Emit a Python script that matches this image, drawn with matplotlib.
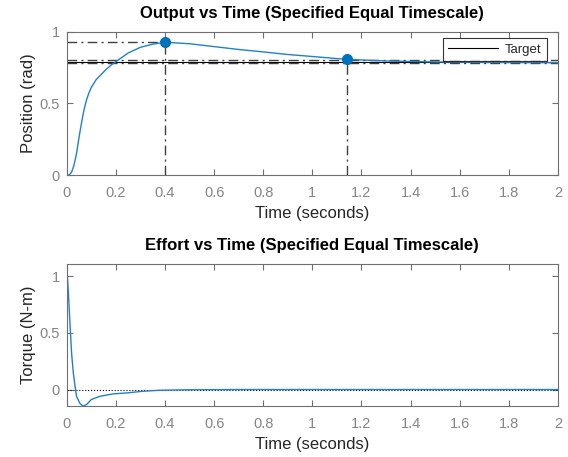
import matplotlib
matplotlib.use("Agg")
import matplotlib.pyplot as plt

# ---- data ----
t_pos = [0, 0.01, 0.02, 0.03, 0.04, 0.05, 0.06, 0.07, 0.08, 0.09, 0.10, 0.12, 0.14,
         0.16, 0.18, 0.20, 0.25, 0.30, 0.35, 0.40, 0.50, 0.60, 0.70, 0.80, 0.90,
         1.00, 1.14, 1.30, 1.50, 1.70, 2.00]
position = [0, 0.0, 0.02, 0.07, 0.15, 0.26, 0.36, 0.45, 0.52, 0.57, 0.61, 0.665, 0.70,
            0.735, 0.765, 0.79, 0.85, 0.89, 0.912, 0.925, 0.915, 0.895, 0.875, 0.858,
            0.84, 0.826, 0.806, 0.795, 0.788, 0.785, 0.783]

t_torque = [0, 0.007, 0.014, 0.02, 0.027, 0.034, 0.04, 0.054, 0.068, 0.082, 0.10,
            0.136, 0.19, 0.245, 0.31, 0.38, 0.5, 0.7, 1.0, 1.5, 2.0]
torque = [1.105, 0.85, 0.555, 0.32, 0.146, 0.03, -0.06, -0.123, -0.146, -0.13, -0.088,
          -0.059, -0.038, -0.03, -0.015, -0.006, -0.002, 0.0, 0.0, 0.0, 0.0]

target = 0.79
band_upper = 0.805
band_lower = 0.778
peak_time, peak_value = 0.40, 0.925
settle_time, settle_value = 1.14, 0.806

xticks = [0, 0.2, 0.4, 0.6, 0.8, 1, 1.2, 1.4, 1.6, 1.8, 2]
xticklabels = ["0", "0.2", "0.4", "0.6", "0.8", "1", "1.2", "1.4", "1.6", "1.8", "2"]
pos_yticks = [0, 0.5, 1]
pos_yticklabels = ["0", "0.5", "1"]
tq_yticks = [0, 0.5, 1]
tq_yticklabels = ["0", "0.5", "1"]

# ---- style ----
plt.rcParams['font.family'] = ['Liberation Sans', 'DejaVu Sans']
BLUE = '#0072BD'
LINEBLUE = '#2081C9'
TICKC = '#858585'
SPINEC = '#707070'
REFC = '#404040'
LABELC = '#262626'

fig = plt.figure(figsize=(5.68, 4.57), dpi=100)
ax1 = fig.add_axes([0.1174, 0.617, 0.8650, 0.314])
ax2 = fig.add_axes([0.1174, 0.1116, 0.8650, 0.3104])

def style(ax):
    for s in ax.spines.values():
        s.set_color(SPINEC)
        s.set_linewidth(0.8)
    ax.tick_params(direction='in', which='both', top=True, right=True,
                   colors=SPINEC, labelcolor=TICKC, labelsize=10.5, length=4, width=0.8)
    ax.tick_params(axis='x', pad=8)
    ax.tick_params(axis='y', pad=5)
    ax.set_xlim(0, 2)
    ax.set_xticks(xticks)
    ax.set_xticklabels(xticklabels)

# top axes
style(ax1)
ax1.set_ylim(0, 1)
ax1.set_yticks(pos_yticks)
ax1.set_yticklabels(pos_yticklabels)
ax1.axhline(target, color='black', lw=0.8, label='Target')
dd = (0, (7, 3, 1.5, 3))
ax1.axhline(band_upper, color=REFC, lw=1.0, ls=dd)
ax1.axhline(band_lower, color=REFC, lw=1.0, ls=dd)
ax1.plot([0, peak_time], [peak_value, peak_value], color=REFC, lw=1.0, ls=dd)
ax1.plot([peak_time, peak_time], [0, peak_value], color=REFC, lw=1.0, ls=dd)
ax1.plot([settle_time, settle_time], [0, settle_value], color=REFC, lw=1.0, ls=dd)
ax1.plot(t_pos, position, color=LINEBLUE, lw=1.0)
ax1.plot([peak_time, settle_time], [peak_value, settle_value], 'o', color=BLUE, ms=7, ls='none')
leg = ax1.legend(loc='upper right', fontsize=9.5, frameon=True, fancybox=False,
                 edgecolor='black', borderpad=0.4, handlelength=3.8, handletextpad=0.5,
                 bbox_to_anchor=(0.977, 0.955), borderaxespad=0.0)
leg.get_frame().set_linewidth(0.8)
for txt in leg.get_texts():
    txt.set_color(LABELC)
ax1.set_title('Output vs Time (Specified Equal Timescale)', fontsize=12, fontweight='bold', pad=10)
ax1.set_xlabel('Time (seconds)', fontsize=12, color=LABELC, labelpad=4)
ax1.set_ylabel('Position (rad)', fontsize=12, color=LABELC, labelpad=2.5)

# bottom axes
style(ax2)
ax2.set_ylim(-0.145, 1.105)
ax2.set_yticks(tq_yticks)
ax2.set_yticklabels(tq_yticklabels)
ax2.plot([0, 2], [0, 0], color='black', lw=0.8, ls=':')
ax2.plot(t_torque, torque, color=LINEBLUE, lw=1.0)
ax2.set_title('Effort vs Time (Specified Equal Timescale)', fontsize=12, fontweight='bold', pad=10)
ax2.set_xlabel('Time (seconds)', fontsize=12, color=LABELC, labelpad=4)
ax2.set_ylabel('Torque (N-m)', fontsize=12, color=LABELC, labelpad=2.5)

fig.savefig('out.png', dpi=100, facecolor='white')
